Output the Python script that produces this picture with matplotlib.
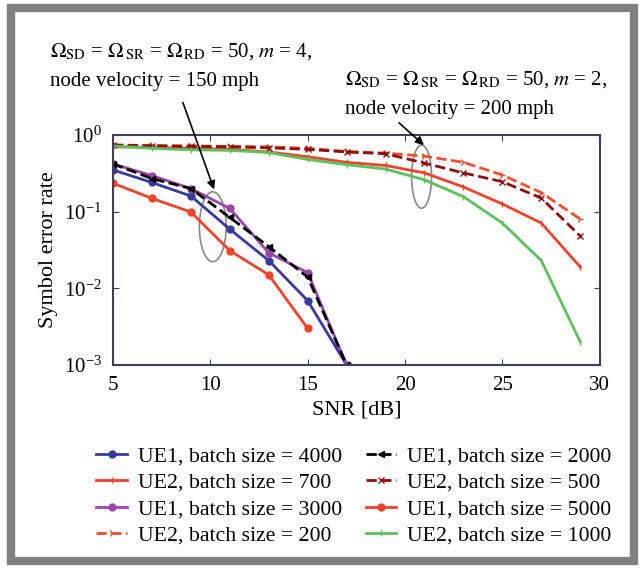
import numpy as np
import matplotlib
matplotlib.use('Agg')
import matplotlib.pyplot as plt
from matplotlib.patches import Ellipse, Rectangle

plt.rcParams['font.family'] = ['Liberation Serif', 'DejaVu Serif']
plt.rcParams['mathtext.fontset'] = 'stix'

# SNR axes
snr_ue1 = [5, 7, 9, 11, 13, 15, 17]
snr_ue1_5000 = [5, 7, 9, 11, 13, 15]
snr_ue2 = [5, 7, 9, 11, 13, 15, 17, 19, 21, 23, 25, 27, 29]

# m = 4, 150 mph  (UE1)
ue1_4000 = [0.35, 0.24, 0.16, 0.059, 0.023, 0.0069, 0.001]
ue1_3000 = [0.42, 0.295, 0.20, 0.11, 0.029, 0.016, 0.001]
ue1_2000 = [0.42, 0.27, 0.20, 0.084, 0.035, 0.014, 0.001]
ue1_5000 = [0.235, 0.149, 0.099, 0.031, 0.015, 0.003]

# m = 2, 200 mph  (UE2)
ue2_700 = [0.70, 0.69, 0.67, 0.65, 0.60, 0.52, 0.44, 0.40, 0.32, 0.21, 0.126, 0.071, 0.019]
ue2_200 = [0.74, 0.73, 0.72, 0.71, 0.70, 0.67, 0.61, 0.58, 0.53, 0.44, 0.30, 0.177, 0.08]
ue2_500 = [0.74, 0.72, 0.71, 0.70, 0.68, 0.65, 0.60, 0.57, 0.43, 0.32, 0.246, 0.15, 0.048]
ue2_1000 = [0.72, 0.67, 0.64, 0.63, 0.59, 0.48, 0.41, 0.36, 0.26, 0.157, 0.071, 0.023, 0.002]

fig = plt.figure(figsize=(6.43, 5.72), dpi=100)
ax = fig.add_axes([0.1757, 0.362, 0.757, 0.402])

ax.plot(snr_ue1, ue1_4000, '-o', color='#3a3a9c', lw=2, ms=5, label='UE1, batch size = 4000')
ax.plot(snr_ue2, ue2_700, '-', color='#f0442a', lw=2, marker='|', ms=4, label='UE2, batch size = 700')
ax.plot(snr_ue1, ue1_3000, '-o', color='#9a46a8', lw=2, ms=5, label='UE1, batch size = 3000')
ax.plot(snr_ue2, ue2_200, '--', color='#f0502e', lw=2, marker='4', ms=5, label='UE2, batch size = 200')
ax.plot(snr_ue1, ue1_2000, '--', color='black', lw=2, marker='<', ms=4, label='UE1, batch size = 2000')
ax.plot(snr_ue2, ue2_500, '--', color='#8c1010', lw=2, marker='x', ms=4, label='UE2, batch size = 500')
ax.plot(snr_ue1_5000, ue1_5000, '-o', color='#f0442a', lw=2, ms=5, label='UE1, batch size = 5000')
ax.plot(snr_ue2, ue2_1000, '-', color='#5cc05c', lw=2, marker='|', ms=4, label='UE2, batch size = 1000')

ax.set_yscale('log')
ax.set_xlim(5, 30)
ax.set_ylim(1e-3, 1)
ax.set_xticks([5, 10, 15, 20, 25, 30])
ax.minorticks_off()
ax.tick_params(direction='in', top=True, right=True, labelsize=15, length=4, color='#404050', pad=8)
for s in ax.spines.values():
    s.set_color('#404058')
    s.set_linewidth(1.5)
ax.set_xlabel('SNR [dB]', fontsize=16)
ax.set_ylabel('Symbol error rate', fontsize=16)

# ellipses around curve groups
ax.add_patch(Ellipse((0.205, 0.601), 0.055, 0.304, transform=ax.transAxes,
                     fill=False, ec='#888888', lw=1.2))
ax.add_patch(Ellipse((0.634, 0.819), 0.041, 0.275, transform=ax.transAxes,
                     fill=False, ec='#888888', lw=1.2))

W, H = 643, 572
fig.text(50 / W, 1 - 57 / H,
         r'$\Omega_{\rm SD}$ = $\Omega_{\,\rm SR}$ = $\Omega_{\,\rm RD}$ = 50, $m$ = 4,',
         fontsize=15, va='baseline')
fig.text(50 / W, 1 - 86 / H, 'node velocity = 150 mph', fontsize=15, va='baseline')
fig.text(345 / W, 1 - 85 / H,
         r'$\Omega_{\rm SD}$ = $\Omega_{\,\rm SR}$ = $\Omega_{\,\rm RD}$ = 50, $m$ = 2,',
         fontsize=15, va='baseline')
fig.text(345 / W, 1 - 114 / H, 'node velocity = 200 mph', fontsize=15, va='baseline')

ax.annotate('', xy=(215 / W, 1 - 192 / H), xytext=(182 / W, 1 - 100 / H),
            xycoords='figure fraction', textcoords='figure fraction',
            arrowprops=dict(arrowstyle='-|>', color='black', lw=1.2, mutation_scale=12))
ax.annotate('', xy=(426 / W, 1 - 147 / H), xytext=(397 / W, 1 - 121 / H),
            xycoords='figure fraction', textcoords='figure fraction',
            arrowprops=dict(arrowstyle='-|>', color='black', lw=1.2, mutation_scale=12))

fig.legend(loc='center', bbox_to_anchor=(354 / W, 1 - 496 / H), ncol=2, frameon=False,
           fontsize=15.7, handlelength=1.4, columnspacing=1.1, labelspacing=0.28,
           handletextpad=0.5, borderpad=0)

# gray frame
fig.patches.append(Rectangle((11 / W, 11 / H), 623 / W, 553 / H, transform=fig.transFigure,
                             fill=False, ec='#808080', lw=6))

fig.savefig('out.png', dpi=100)
